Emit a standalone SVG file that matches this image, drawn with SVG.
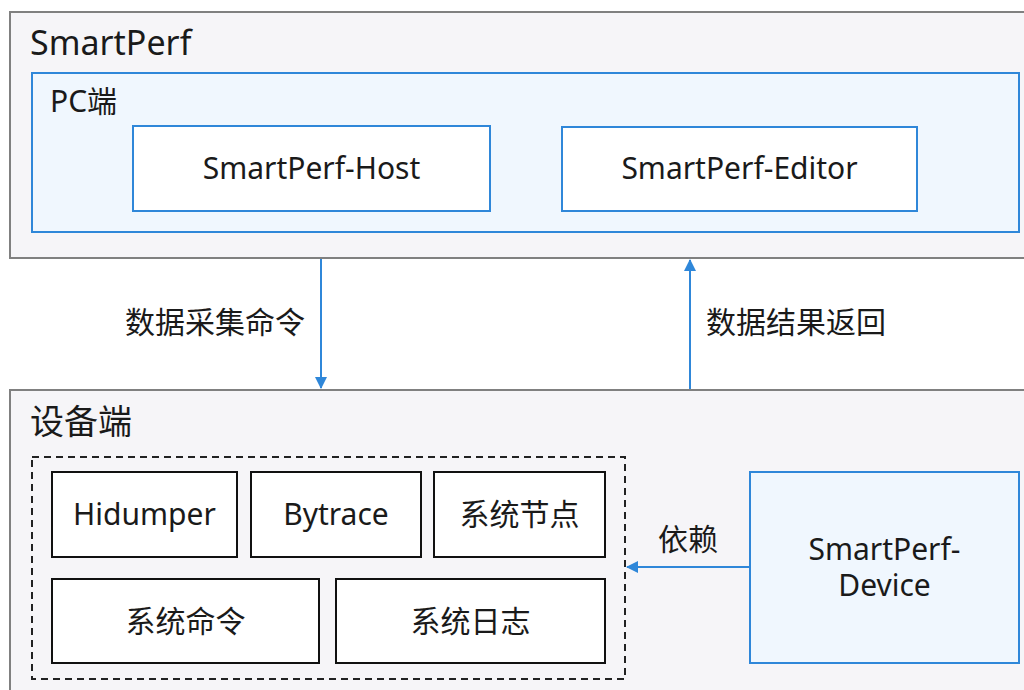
<svg xmlns="http://www.w3.org/2000/svg" width="1024" height="690" viewBox="0 0 1024 690">
<defs>
<style>
text{font-family:"Noto Sans","Noto Sans CJK SC",sans-serif;fill:#1a1a1a}
.outer{fill:#f6f5f8;stroke:#808080;stroke-width:2}
.blue{fill:#f0f7fe;stroke:#2f87d9;stroke-width:2}
.wblue{fill:#ffffff;stroke:#2f87d9;stroke-width:2}
.blk{fill:#ffffff;stroke:#111;stroke-width:2}
.lbl{font-size:30px;text-anchor:middle}
.edge{stroke:#2f87d9;stroke-width:2;fill:none}
</style>
<marker id="ah" markerWidth="12" markerHeight="12" refX="11" refY="6" orient="auto" markerUnits="userSpaceOnUse">
<path d="M0,0 L12,6 L0,12 z" fill="#2f87d9"/>
</marker>
</defs>
<rect width="1024" height="690" fill="#ffffff"/>
<g id="smartperf">
<rect class="outer" x="10" y="12" width="1030" height="246"/>
<text x="30" y="55" font-size="34">SmartPerf</text>
</g>
<g id="pc">
<rect class="blue" x="32" y="73" width="987" height="159"/>
<text x="50" y="112" font-size="30">PC端</text>
</g>
<g id="host">
<rect class="wblue" x="133" y="126" width="357" height="85"/>
<text class="lbl" x="311.5" y="179">SmartPerf-Host</text>
</g>
<g id="editor">
<rect class="wblue" x="562" y="127" width="355" height="84"/>
<text class="lbl" x="739.5" y="179">SmartPerf-Editor</text>
</g>
<g id="device-side">
<rect class="outer" x="10" y="390" width="1030" height="320"/>
<text x="30" y="434" font-size="34">设备端</text>
</g>
<g id="tools">
<rect x="32" y="457" width="593" height="222" fill="none" stroke="#222" stroke-width="2" stroke-dasharray="7,5"/>
</g>
<g id="hidumper">
<rect class="blk" x="52" y="472" width="185" height="85"/>
<text class="lbl" x="144.5" y="525">Hidumper</text>
</g>
<g id="bytrace">
<rect class="blk" x="251" y="472" width="170" height="85"/>
<text class="lbl" x="336" y="525">Bytrace</text>
</g>
<g id="sysnode">
<rect class="blk" x="434" y="472" width="171" height="85"/>
<text class="lbl" x="519.5" y="525">系统节点</text>
</g>
<g id="syscmd">
<rect class="blk" x="52" y="579" width="267" height="84"/>
<text class="lbl" x="185.5" y="632">系统命令</text>
</g>
<g id="syslog">
<rect class="blk" x="336" y="579" width="269" height="84"/>
<text class="lbl" x="470.5" y="632">系统日志</text>
</g>
<g id="device">
<rect class="blue" x="750" y="472" width="269" height="191"/>
<text class="lbl" x="884.5" y="560">SmartPerf-</text>
<text class="lbl" x="884.5" y="596">Device</text>
</g>
<g id="connectors">
<line class="edge" x1="321" y1="259" x2="321" y2="388" marker-end="url(#ah)"/>
<line class="edge" x1="690" y1="389" x2="690" y2="260" marker-end="url(#ah)"/>
<line class="edge" x1="750" y1="567" x2="627" y2="567" marker-end="url(#ah)"/>
<text class="lbl" x="215" y="333">数据采集命令</text>
<text class="lbl" x="796" y="333">数据结果返回</text>
<text class="lbl" x="688" y="550">依赖</text>
</g>
</svg>
